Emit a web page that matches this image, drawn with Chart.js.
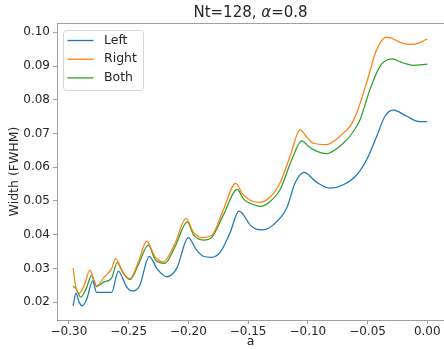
<!DOCTYPE html>
<html lang="en">
<head>
    <meta charset="UTF-8">
    <title>Width vs a</title>
    <script src="https://cdn.jsdelivr.net/npm/chart.js"></script>
    <style>
        body {
            margin: 0;
            padding: 0;
            background: #fff;
            overflow: hidden;
        }
        canvas {
            display: block;
        }
    </style>
</head>
<body>

<canvas id="widthChart" width="444" height="349"></canvas>

<script>
    // Sampled curves: a values and FWHM widths for each boundary setting
    const leftA = [-0.2965, -0.2941, -0.2915, -0.2889, -0.2850, -0.2802, -0.2768, -0.2642, -0.2587, -0.2517,
        -0.2475, -0.2410, -0.2327, -0.2265, -0.2182, -0.2098, -0.2001, -0.1931, -0.1875, -0.1805,
        -0.1730, -0.1652, -0.1576, -0.1470, -0.1386, -0.1289, -0.1177, -0.1107, -0.1032, -0.0926,
        -0.0814, -0.0703, -0.0591, -0.0508, -0.0424, -0.0354, -0.0284, -0.0172, -0.0089, 0.0];
    const leftW = [0.0189, 0.0227, 0.0200, 0.0189, 0.0210, 0.0263, 0.0229, 0.0229, 0.0292, 0.0245,
        0.0233, 0.0247, 0.0336, 0.0300, 0.0275, 0.0300, 0.0391, 0.0354, 0.0336, 0.0333,
        0.0350, 0.0405, 0.0470, 0.0424, 0.0414, 0.0429, 0.0479, 0.0553, 0.0585, 0.0555,
        0.0538, 0.0548, 0.0577, 0.0622, 0.0691, 0.0751, 0.0769, 0.0751, 0.0737, 0.0735];

    const rightA = [-0.2965, -0.2945, -0.2916, -0.2870, -0.2824, -0.2790, -0.2768, -0.2705, -0.2642, -0.2609,
        -0.2560, -0.2520, -0.2489, -0.2420, -0.2349, -0.2279, -0.2210, -0.2112, -0.2020, -0.1958,
        -0.1889, -0.1805, -0.1708, -0.1604, -0.1545, -0.1484, -0.1400, -0.1320, -0.1233, -0.1149,
        -0.1065, -0.1010, -0.0954, -0.0842, -0.0770, -0.0703, -0.0640, -0.0591, -0.0508, -0.0424,
        -0.0341, -0.0280, -0.0228, -0.0144, -0.0070, 0.0];
    const rightW = [0.0301, 0.0250, 0.0226, 0.0252, 0.0295, 0.0265, 0.0248, 0.0274, 0.0300, 0.0329,
        0.0295, 0.0276, 0.0270, 0.0318, 0.0381, 0.0334, 0.0319, 0.0374, 0.0448, 0.0408,
        0.0391, 0.0398, 0.0473, 0.0552, 0.0520, 0.0502, 0.0496, 0.0510, 0.0553, 0.0632,
        0.0711, 0.0690, 0.0671, 0.0667, 0.0680, 0.0701, 0.0725, 0.0761, 0.0850, 0.0948,
        0.0986, 0.0980, 0.0970, 0.0964, 0.0968, 0.0981];

    const bothA = [-0.2965, -0.2940, -0.2902, -0.2855, -0.2810, -0.2790, -0.2768, -0.2705, -0.2642, -0.2595,
        -0.2545, -0.2489, -0.2420, -0.2336, -0.2279, -0.2196, -0.2112, -0.2009, -0.1958, -0.1875,
        -0.1805, -0.1708, -0.1590, -0.1540, -0.1484, -0.1400, -0.1320, -0.1233, -0.1135, -0.1051,
        -0.1000, -0.0954, -0.0842, -0.0770, -0.0703, -0.0630, -0.0563, -0.0480, -0.0396, -0.0298,
        -0.0201, -0.0117, 0.0];
    const bothW = [0.0247, 0.0240, 0.0215, 0.0240, 0.0280, 0.0262, 0.0247, 0.0260, 0.0272, 0.0318,
        0.0285, 0.0267, 0.0310, 0.0369, 0.0327, 0.0315, 0.0364, 0.0438, 0.0400, 0.0384,
        0.0392, 0.0458, 0.0534, 0.0506, 0.0493, 0.0484, 0.0497, 0.0533, 0.0622, 0.0678,
        0.0664, 0.0652, 0.0640, 0.0652, 0.0671, 0.0700, 0.0741, 0.0830, 0.0899, 0.0921,
        0.0909, 0.0902, 0.0906];

    const xTicks = [-0.30, -0.25, -0.20, -0.15, -0.10, -0.05, 0.00];
    const yTicks = [0.02, 0.03, 0.04, 0.05, 0.06, 0.07, 0.08, 0.09, 0.10];

    const FONT = "'DejaVu Sans', sans-serif";
    const SPINE = '#a0a0a0';
    const TEXT = '#262626';

    function toPoints(xs, ys) {
        return xs.map((x, i) => ({ x: x, y: ys[i] }));
    }

    function fmtTick(v) {
        return v.toFixed(2).replace('-', '\u2212');
    }

    // Title with an italic alpha, centred over the axes
    const titlePlugin = {
        id: 'mplTitle',
        afterDraw(chart) {
            const ctx = chart.ctx;
            const area = chart.chartArea;
            const parts = [
                { t: 'Nt=128, ', f: '15px ' + FONT },
                { t: '\u03b1', f: 'italic 15px ' + FONT },
                { t: '=0.8', f: '15px ' + FONT }
            ];
            ctx.save();
            let total = 0;
            parts.forEach(p => { ctx.font = p.f; p.w = ctx.measureText(p.t).width; total += p.w; });
            let x = (area.left + area.right) / 2 - total / 2;
            ctx.fillStyle = TEXT;
            ctx.textBaseline = 'middle';
            parts.forEach(p => { ctx.font = p.f; ctx.fillText(p.t, x, 13.5); x += p.w; });
            ctx.restore();
        }
    };

    // Top spine of the axes frame
    const framePlugin = {
        id: 'frameTop',
        afterDraw(chart) {
            const ctx = chart.ctx;
            const area = chart.chartArea;
            ctx.save();
            ctx.strokeStyle = SPINE;
            ctx.lineWidth = 1;
            ctx.beginPath();
            ctx.moveTo(area.left, Math.round(area.top) + 0.5);
            ctx.lineTo(area.right, Math.round(area.top) + 0.5);
            ctx.stroke();
            ctx.restore();
        }
    };

    // Boxed legend in the upper left corner of the axes
    const legendPlugin = {
        id: 'boxLegend',
        afterDatasetsDraw(chart) {
            const ctx = chart.ctx;
            const area = chart.chartArea;
            const bx = area.left + 6, by = area.top + 7, bw = 80, bh = 60;
            ctx.save();
            ctx.beginPath();
            ctx.roundRect(bx + 0.5, by + 0.5, bw, bh, 3);
            ctx.fillStyle = 'rgba(255,255,255,0.8)';
            ctx.fill();
            ctx.strokeStyle = '#d6d6d6';
            ctx.lineWidth = 1;
            ctx.stroke();
            ctx.font = '12.5px ' + FONT;
            ctx.textBaseline = 'middle';
            chart.data.datasets.forEach((ds, i) => {
                const y = by + 10.5 + i * 18.7;
                ctx.strokeStyle = ds.borderColor;
                ctx.lineWidth = 1.3;
                ctx.beginPath();
                ctx.moveTo(bx + 4.5, y);
                ctx.lineTo(bx + 30.5, y);
                ctx.stroke();
                ctx.fillStyle = TEXT;
                ctx.fillText(ds.label, bx + 41, y);
            });
            ctx.restore();
        }
    };

    const ctx = document.getElementById('widthChart').getContext('2d');
    const widthChart = new Chart(ctx, {
        type: 'line',
        data: {
            datasets: [
                { label: 'Left', data: toPoints(leftA, leftW), borderColor: '#1f77b4' },
                { label: 'Right', data: toPoints(rightA, rightW), borderColor: '#ff7f0e' },
                { label: 'Both', data: toPoints(bothA, bothW), borderColor: '#2ca02c' }
            ]
        },
        options: {
            responsive: false,
            animation: false,
            layout: { padding: { top: 23, right: 0, left: 0, bottom: 0 } },
            elements: {
                point: { radius: 0 },
                line: { borderWidth: 1.25, cubicInterpolationMode: 'monotone', fill: false }
            },
            plugins: {
                legend: { display: false },
                title: { display: false },
                tooltip: { enabled: false }
            },
            scales: {
                x: {
                    type: 'linear',
                    min: -0.3100,
                    max: 0.0140,
                    afterBuildTicks: axis => { axis.ticks = xTicks.map(v => ({ value: v })); },
                    afterFit: axis => { axis.height = 29; },
                    grid: { drawOnChartArea: false, drawTicks: true, tickLength: 4, color: SPINE },
                    border: { display: true, color: SPINE, width: 1 },
                    ticks: {
                        maxRotation: 0,
                        padding: 1,
                        color: TEXT,
                        font: { family: FONT, size: 12 },
                        callback: v => fmtTick(v)
                    },
                    title: {
                        display: true,
                        text: 'a',
                        color: TEXT,
                        font: { family: FONT, size: 12.5 },
                        padding: { top: 0, bottom: 0 }
                    }
                },
                y: {
                    min: 0.0147,
                    max: 0.10276,
                    afterBuildTicks: axis => { axis.ticks = yTicks.map(v => ({ value: v })); },
                    afterFit: axis => { axis.width = 57; },
                    grid: { drawOnChartArea: false, drawTicks: true, tickLength: 4, color: SPINE },
                    border: { display: true, color: SPINE, width: 1 },
                    ticks: {
                        padding: 3,
                        color: TEXT,
                        font: { family: FONT, size: 12 },
                        callback: v => fmtTick(v)
                    },
                    title: {
                        display: true,
                        text: 'Width (FWHM)',
                        color: TEXT,
                        font: { family: FONT, size: 12.5 },
                        padding: { top: 7, bottom: 0 }
                    }
                }
            }
        },
        plugins: [titlePlugin, framePlugin, legendPlugin]
    });
</script>

</body>
</html>
